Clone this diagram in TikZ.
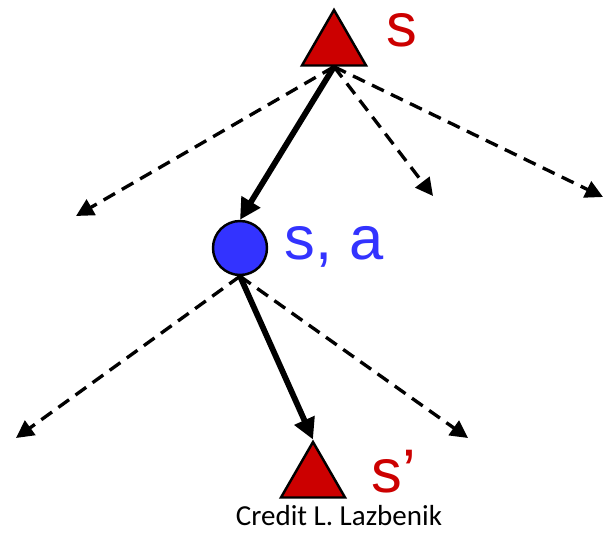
\documentclass[tikz,border=0pt]{standalone}
\usepackage{fontspec}
\setmainfont{Liberation Sans}
\newfontfamily\creditfont{Carlito}
\usetikzlibrary{arrows.meta,shapes.geometric,positioning,calc}
\definecolor{statered}{RGB}{204,0,0}
\definecolor{qblue}{RGB}{51,51,255}

\begin{document}
\begin{tikzpicture}[x=0.02cm,y=-0.02cm,
    statenode/.style={regular polygon,regular polygon sides=3,draw,line width=1.4pt,
      fill=statered,minimum size=74*0.02cm,inner sep=0pt},
    qnode/.style={circle,draw,line width=1.4pt,fill=qblue,minimum size=54*0.02cm,inner sep=0pt},
    taken/.style={line width=3.3pt,-{Triangle[length=12pt,width=12pt]}},
    other/.style={line width=1.9pt,dash pattern=on 7.5pt off 4.5pt,-{Triangle[length=10pt,width=10pt]}},
    lab/.style={font=\fontsize{35}{40}\selectfont,inner sep=0pt}
  ]
    \useasboundingbox (0,0) rectangle (604,533);

    \node[statenode] (s) at (334,47) {};
    \node[qnode] (sa) at (240,248) {};
    \node[statenode] (sp) at (313,479) {};

    \node[lab,text=statered] (slab) at (402,30) {s};
    \node[lab,text=qblue] (salab) at (334,247) {s, a};
    \node[lab,text=statered] (splab) at (394,472) {s’};
    \node[font=\creditfont\fontsize{16.5}{20}\selectfont,inner sep=0pt] (credit) at (339,516) {Credit L. Lazbenik};

    % other actions from s
    \coordinate (a1) at (76,216);
    \coordinate (a2) at (433,196);
    \coordinate (a3) at (603,197);
    \draw[other] (s.side 2) -- (a1);
    \draw[other] (s.side 2) -- (a2);
    \draw[other] (s.side 2) -- (a3);

    % other successors of s, a
    \coordinate (b1) at (16,438);
    \coordinate (b2) at (468,438);
    \draw[other] (sa.south) -- (b1);
    \draw[other] (sa.south) -- (b2);

    \draw[taken] (s.side 2) -- (sa.north);
    \draw[taken] (sa.south) -- (sp.corner 1);
\end{tikzpicture}
\end{document}
